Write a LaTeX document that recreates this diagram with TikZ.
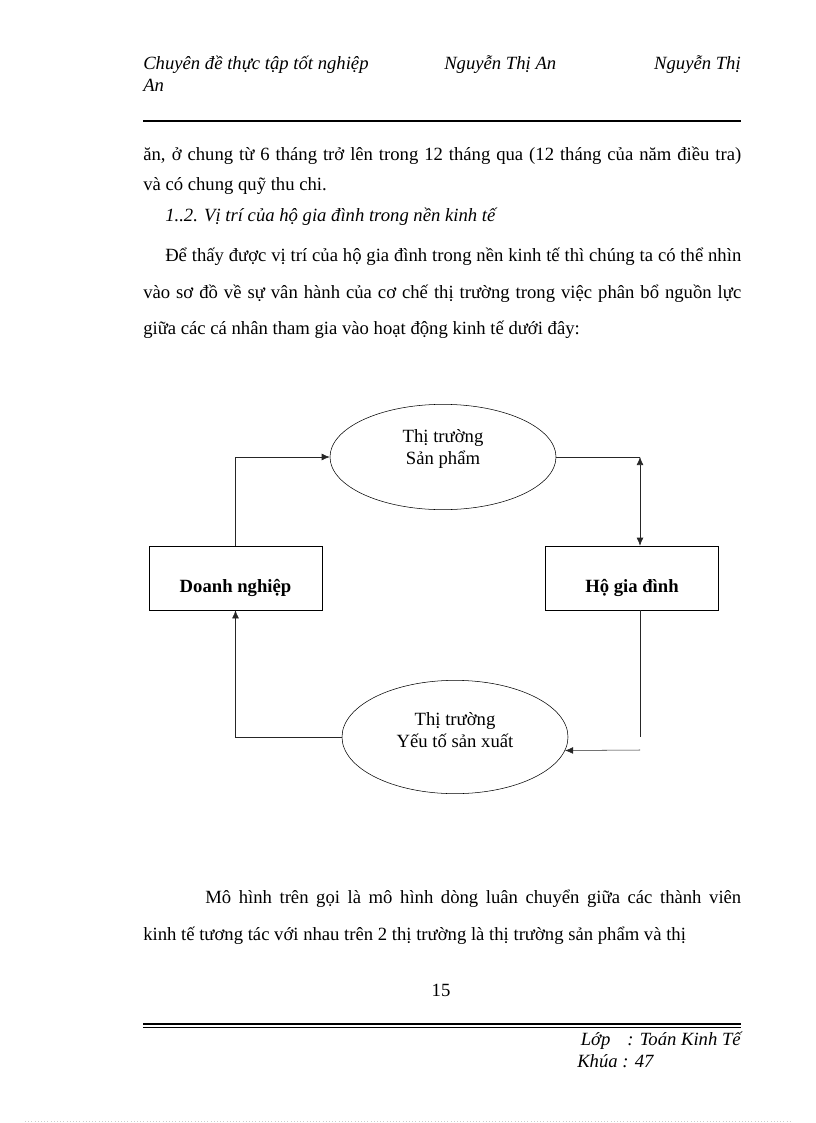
\documentclass[tikz,border=0pt]{standalone}
\usepackage{fontspec}
\setmainfont{Liberation Serif}
\usetikzlibrary{shapes.geometric,arrows.meta}
\tikzset{
  txt/.style={anchor=base west,inner sep=0pt,font=\fontsize{14}{16}\selectfont},
  htxt/.style={txt,font=\fontsize{14}{16}\selectfont\itshape},
  unit/.style={draw,thin,minimum width=130pt,minimum height=48pt,inner sep=0pt},
  unitlabel/.style={inner sep=0pt,font=\fontsize{14}{16}\selectfont\bfseries},
  market/.style={draw,thin,ellipse,inner sep=0pt},
  marketlabel/.style={inner sep=0pt,align=center,font=\fontsize{14}{17}\selectfont},
  flow/.style={thin,black!85}
}
\begin{document}
\begin{tikzpicture}[x=0.75pt,y=-0.75pt,>={Latex[length=6pt,width=5pt]}]
  \useasboundingbox (0,0) rectangle (816,1123);
  \node[htxt] (hd1) at (143,70) {Chuyên đề thực tập tốt nghiệp};
  \node[htxt] (hd2) at (444,70) {Nguyễn Thị An};
  \node[htxt,anchor=base east] (hd3) at (741,70) {Nguyễn Thị};
  \node[htxt] (hd4) at (143,92) {An};
  \draw[line width=1.5pt] (143,121) -- (741,121);
  \node[txt] (l1) at (143,161) {\makebox[448.5pt][s]{ăn, ở chung từ 6 tháng trở lên trong 12 tháng qua (12 tháng của năm điều tra)}};
  \node[txt] (l2) at (143,191) {và có chung quỹ thu chi.};
  \node[htxt] (l3) at (165,222) {1..2. Vị trí của hộ gia đình trong nền kinh tế};
  \node[txt] (l4) at (165,261) {\makebox[432pt][s]{Để thấy được vị trí của hộ gia đình trong nền kinh tế thì chúng ta có thể nhìn}};
  \node[txt] (l5) at (143,298) {\makebox[448.5pt][s]{vào sơ đồ về sự vân hành của cơ chế thị trường trong việc phân bổ nguồn lực}};
  \node[txt] (l6) at (143,334) {giữa các cá nhân tham gia vào hoạt động kinh tế dưới đây:};
  \node[market,minimum width=169.5pt,minimum height=79pt] (sp) at (443,457) {};
  \node[marketlabel] (sp-text) at (443,449) {Thị trường\\Sản phẩm};
  \node[unit] (dn) at (235.5,578) {};
  \node[unitlabel] (dn-text) at (235.5,588) {Doanh nghiệp};
  \node[unit] (hgd) at (632,578) {};
  \node[unitlabel] (hgd-text) at (632,588) {Hộ gia đình};
  \node[market,minimum width=169.5pt,minimum height=85pt] (yt) at (455,737) {};
  \node[marketlabel] (yt-text) at (455,730) {Thị trường\\Yếu tố sản xuất};
  \coordinate (rt) at (640,457);
  \coordinate (rb) at (640,737);
  \coordinate (rh) at (640,750);
  \draw[flow,->] (dn.north) |- (sp.west);
  \draw[flow] (sp.east) -- (rt);
  \draw[flow,<->] (rt) -- (rt |- hgd.north);
  \draw[flow] (rb |- hgd.south) -- (rb);
  \draw[flow,->] (rh) -- (yt.-7);
  \draw[flow,->] (yt.west) -| (dn.south);
  \node[txt] (l7) at (205,903) {\makebox[402pt][s]{Mô hình trên gọi là mô hình dòng luân chuyển giữa các thành viên}};
  \node[txt] (l8) at (143,940) {kinh tế tương tác với nhau trên 2 thị trường là thị trường sản phẩm và thị};
  \node[txt,anchor=base] (pg) at (441,996) {15};
  \draw[line width=0.8pt] (143,1024) -- (741,1024);
  \draw[line width=0.8pt] (143,1027.5) -- (741,1027.5);
  \node[htxt,anchor=base east] (ft1) at (741,1045) {Lớp\hspace{0.9em}: Toán Kinh Tế};
  \node[htxt] (ft2) at (577,1067) {Khúa : 47};
  \draw[black!20,dotted] (25,1121) -- (792,1121);
\end{tikzpicture}
\end{document}
